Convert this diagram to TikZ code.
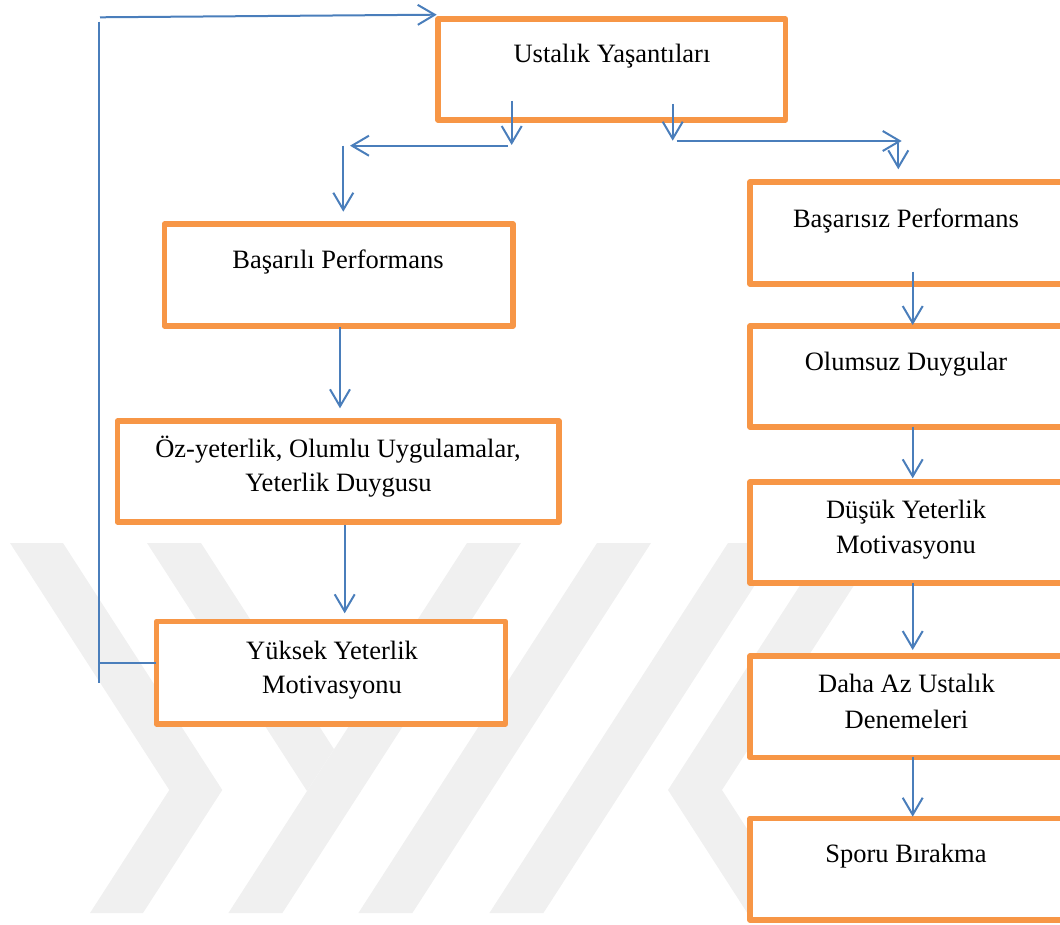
\documentclass[tikz,border=0pt]{standalone}
\usepackage{fontspec}
\setmainfont{Liberation Serif}
\usetikzlibrary{arrows.meta}
\definecolor{boxorange}{RGB}{247,150,70}
\definecolor{linkblue}{RGB}{74,126,187}
\definecolor{markgray}{RGB}{240,240,240}
\begin{document}
\begin{tikzpicture}[x=1pt,y=-1pt,
  box/.style={draw=boxorange, line width=5.5pt, fill=white, line join=round,
              inner sep=0pt, rectangle},
  lbl/.style={anchor=base, inner sep=0pt, font=\fontsize{26.5}{34.5}\selectfont},
  link/.style={draw=linkblue, line width=2pt},
  arr/.style={link, -{Straight Barb[length=17pt,width=20pt]}},
  wmark/.style={fill=markgray, draw=none}]

\path[use as bounding box] (0,0) rectangle (1060,925);
\clip (0,0) rectangle (1060,925);

% background emblem bands
\fill[wmark] (10,543) -- (63,543) -- (222.3,790) -- (143,913) -- (90,913) -- (169.3,790) -- cycle;
\fill[wmark] (147,543) -- (201,543) -- (334,749.2) -- (307,791.1) -- cycle;
\fill[wmark] (467,543) -- (521,543) -- (282.4,913) -- (228.4,913) -- cycle;
\fill[wmark] (597,543) -- (651,543) -- (412.4,913) -- (358.4,913) -- cycle;
\fill[wmark] (728,543) -- (782,543) -- (543.4,913) -- (489.4,913) -- cycle;
\fill[wmark] (827.3,543) -- (881.3,543) -- (722,790) -- (801.3,913) -- (747.3,913) -- (668,790) -- cycle;

% boxes
\node[box, minimum width=347.5pt, minimum height=101pt]   (U)  at (611.75,69.5) {};
\node[box, minimum width=348.5pt, minimum height=102pt]   (B)  at (338.75,275) {};
\node[box, minimum width=441.5pt, minimum height=101pt]   (OZ) at (338.25,471.5) {};
\node[box, minimum width=349pt,   minimum height=102.5pt] (YY) at (331,672.75) {};
\node[box, minimum width=313pt,   minimum height=102pt]   (R1) at (906.5,233) {};
\node[box, minimum width=313pt,   minimum height=101pt]   (R2) at (906.5,376.5) {};
\node[box, minimum width=313pt,   minimum height=101pt]   (R3) at (906.5,532.5) {};
\node[box, minimum width=313pt,   minimum height=101.5pt] (R4) at (906.5,706.75) {};
\node[box, minimum width=313pt,   minimum height=101.5pt] (R5) at (906.5,869.25) {};

% labels
\node[lbl] (tU)   at (612,62.7)   {Ustalık Yaşantıları};
\node[lbl] (tB)   at (338,268.3)  {Başarılı Performans};
\node[lbl] (tOZa) at (338,457.3)  {Öz-yeterlik, Olumlu Uygulamalar,};
\node[lbl] (tOZb) at (338.5,491.7){Yeterlik Duygusu};
\node[lbl] (tYa)  at (332,659)    {Yüksek Yeterlik};
\node[lbl] (tYb)  at (332,693.3)  {Motivasyonu};
\node[lbl] (tR1)  at (906,227.3)  {Başarısız Performans};
\node[lbl] (tR2)  at (906,370)    {Olumsuz Duygular};
\node[lbl] (tR3a) at (906,518.3)  {Düşük Yeterlik};
\node[lbl] (tR3b) at (906,553.3)  {Motivasyonu};
\node[lbl] (tR4a) at (906.5,692.7){Daha Az Ustalık};
\node[lbl] (tR4b) at (906.5,728.3){Denemeleri};
\node[lbl] (tR5)  at (906,862.7)  {Sporu Bırakma};

% connector end points
\coordinate (fbA) at (100,17.3);
\coordinate (fbB) at (436.7,14.7);
\coordinate (fbC) at (99,21.7);
\coordinate (fbD) at (99,683.3);
\coordinate (fbE) at (99,663.3);
\coordinate (fbF) at (156,663.3);

\coordinate (l1) at (511.7,101);
\coordinate (l2) at (511.7,145);
\coordinate (l3) at (507.7,145.7);
\coordinate (l4) at (350,145.7);
\coordinate (l5) at (343.3,145.7);
\coordinate (l6) at (343.3,211.7);

\coordinate (r1) at (672.7,104);
\coordinate (r2) at (672.7,140.7);
\coordinate (r3) at (676.7,141);
\coordinate (r4) at (901.7,141);
\coordinate (r5) at (898.3,143);
\coordinate (r6) at (898.3,169.3);

\coordinate (bOut) at (340,326.7);
\coordinate (ozIn) at (340,408.3);
\coordinate (ozOut) at (344.7,525);
\coordinate (yyIn) at (344.7,613.3);

\coordinate (r1Out) at (912.7,271.7);
\coordinate (r2In)  at (912.7,325);
\coordinate (r2Out) at (912.7,426.7);
\coordinate (r3In)  at (912.7,478.3);
\coordinate (r3Out) at (912.7,583.3);
\coordinate (r4In)  at (912.7,650);
\coordinate (r4Out) at (912.7,756.7);
\coordinate (r5In)  at (912.7,816.7);

% feedback loop back to the top box
\draw[arr]  (fbA) -- (fbB);
\draw[link] (fbC) -- (fbD);
\draw[link] (fbE) -- (fbF);

% split from the top box
\draw[arr] (l1) -- (l2);
\draw[arr] (l3) -- (l4);
\draw[arr] (l5) -- (l6);
\draw[arr] (r1) -- (r2);
\draw[arr] (r3) -- (r4);
\draw[arr] (r5) -- (r6);

% left chain
\draw[arr] (bOut) -- (ozIn);
\draw[arr] (ozOut) -- (yyIn);

% right chain
\draw[arr] (r1Out) -- (r2In);
\draw[arr] (r2Out) -- (r3In);
\draw[arr] (r3Out) -- (r4In);
\draw[arr] (r4Out) -- (r5In);
\end{tikzpicture}
\end{document}
